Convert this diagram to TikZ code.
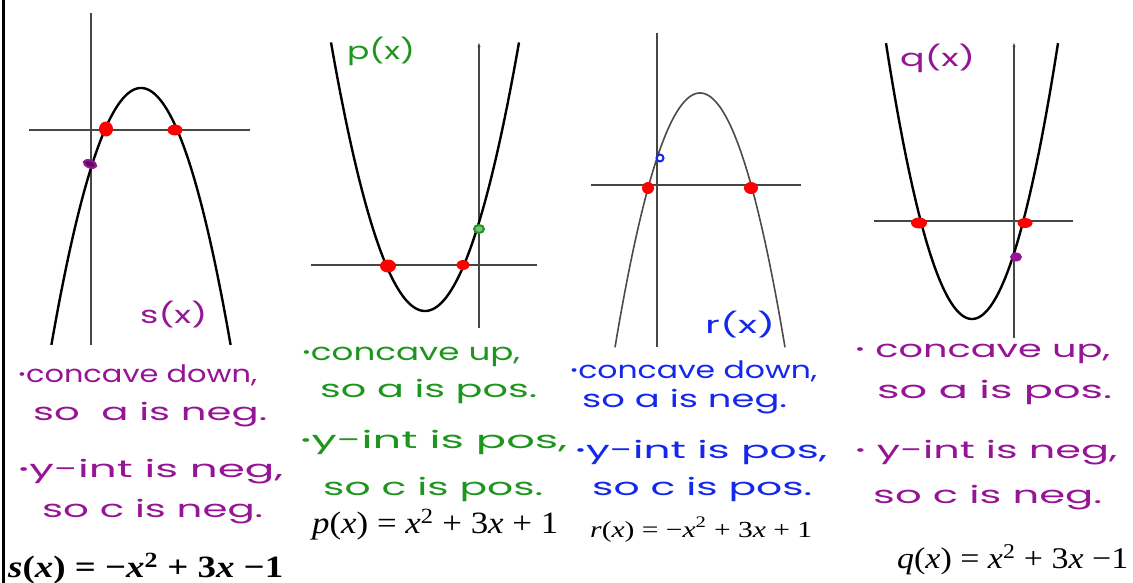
\documentclass[tikz,border=0pt]{standalone}
\usepackage{fontspec}
\usepackage{graphicx}
\usetikzlibrary{arrows.meta}
\newfontfamily\hand{Poppins}
\newfontfamily\eqf{Liberation Serif}
\definecolor{mpurple}{RGB}{150,20,150}
\definecolor{mgreen}{RGB}{30,150,30}
\definecolor{mblue}{RGB}{20,40,235}
\definecolor{axgray}{RGB}{70,70,70}
\newcommand{\hw}[2]{\resizebox{#1pt}{\height}{#2}}
\newcommand{\bul}{\raisebox{3pt}{\fontsize{15}{15}\selectfont •}}
\begin{document}
\begin{tikzpicture}[x=1pt,y=-1pt,
  axisline/.style={draw=axgray,line width=1.3pt},
  curve/.style={draw=black,line width=2.4pt},
  hand/.style={font=\hand\fontsize{24}{28}\selectfont,inner sep=0pt,anchor=base west},
  eqn/.style={font=\eqf\fontsize{31}{34}\selectfont,inner sep=0pt,anchor=base west,text=black}]
\useasboundingbox (0,0) rectangle (1133,583);
\fill[white] (0,0) rectangle (1133,583);
\draw[line width=3pt] (3,0) -- (3,583);

% ---------- s(x) ----------
\draw[axisline] (91,13) -- (91,345);
\draw[axisline] (29,130) -- (250,130);
\draw[curve] plot[domain=51.4:230.6,samples=90,smooth] (\x,{88+0.032*(\x-141)*(\x-141)});
\fill[red] (106,129) ellipse (7pt and 7.5pt);
\fill[red] (175,130) ellipse (7.5pt and 5.5pt);
\draw[mpurple,line width=2pt,fill=mpurple!60!black,rotate around={-20:(90,164)}] (90,164) ellipse (6.5pt and 3.5pt);
\node[hand,text=mpurple] (sl) at (140,323) {\hw{67}{s(x)}};

% ---------- p(x) ----------
\draw[axisline,-{Stealth[length=4pt,width=3pt]}] (479,328) -- (479,43);
\draw[axisline] (311,265) -- (537,265);
\draw[curve] plot[domain=331:519,samples=90,smooth] (\x,{311-0.0304*(\x-425)*(\x-425)});
\fill[red] (388,266) ellipse (8pt and 6.5pt);
\fill[red] (463,265) ellipse (6.5pt and 5pt);
\draw[mgreen,line width=2pt,fill=mgreen!60] (479,229) ellipse (5pt and 4pt);
\node[hand,text=mgreen] (pl) at (347,60) {\hw{68}{p(x)}};

% ---------- r(x) ----------
\draw[axisline] (657,33) -- (657,347);
\draw[axisline] (591,185) -- (801,185);
\draw[draw=black!70,line width=1.6pt] plot[domain=615:785,samples=90,smooth] (\x,{93+0.0352*(\x-700)*(\x-700)});
\fill[red] (648,188) ellipse (6pt and 6pt);
\fill[red] (751,188) ellipse (7pt and 6pt);
\draw[mblue,line width=2pt] (660,158) circle (3.5pt);
\node[hand,text=mblue] (rl) at (705,333) {\hw{70}{r(x)}};

% ---------- q(x) ----------
\draw[axisline,-{Stealth[length=4pt,width=3pt]}] (1014,338) -- (1014,43);
\draw[axisline] (874,221) -- (1073,221);
\draw[curve] plot[domain=886:1058,samples=90,smooth] (\x,{319-0.0373*(\x-972)*(\x-972)});
\fill[red] (919,223) ellipse (8pt and 5.5pt);
\fill[red] (1025,223) ellipse (7.5pt and 5pt);
\fill[mpurple] (1016,257) ellipse (6pt and 4.5pt);
\node[hand,text=mpurple] (ql) at (900,67) {\hw{75}{q(x)}};

% ---------- notes ----------
\node[hand,text=mpurple] (s1) at (18,382) {\hw{239}{\bul concave down,}};
\node[hand,text=mpurple] (s2) at (33,420) {\hw{234}{so\ \ a is neg.}};
\node[hand,text=mpurple] (s3) at (18,477) {\hw{265}{\bul y-int is neg,}};
\node[hand,text=mpurple] (s4) at (42,517) {\hw{221}{so c is neg.}};

\node[hand,text=mgreen] (p1) at (302,360) {\hw{218}{\bul concave up,}};
\node[hand,text=mgreen] (p2) at (320,397) {\hw{217}{so a is pos.}};
\node[hand,text=mgreen] (p3) at (300,448) {\hw{267}{\bul y-int is pos,}};
\node[hand,text=mgreen] (p4) at (323,495) {\hw{220}{so c is pos.}};

\node[hand,text=mblue] (r1) at (570,378) {\hw{247}{\bul concave down,}};
\node[hand,text=mblue] (r2) at (582,407) {\hw{205}{so a is neg.}};
\node[hand,text=mblue] (r3) at (575,458) {\hw{252}{\bul y-int is pos,}};
\node[hand,text=mblue] (r4) at (592,495) {\hw{220}{so c is pos.}};

\node[hand,text=mpurple] (q1) at (855,357) {\hw{255}{\bul\ concave up,}};
\node[hand,text=mpurple] (q2) at (877,398) {\hw{235}{so a is pos.}};
\node[hand,text=mpurple] (q3) at (855,458) {\hw{262}{\bul\ y-int is neg,}};
\node[hand,text=mpurple] (q4) at (873,503) {\hw{229}{so c is neg.}};

% ---------- equations ----------
\node[eqn] (se) at (8,577) {\hw{275}{\bfseries\textit{s}(\textit{x}) = −\textit{x}\textsuperscript{2} + 3\textit{x} −1}};
\node[eqn] (pe) at (312,533) {\hw{246}{\textit{p}(\textit{x}) = \textit{x}\textsuperscript{2} + 3\textit{x} + 1}};
\node[eqn,font=\eqf\fontsize{23}{26}\selectfont] (re) at (590,537) {\hw{222}{\textit{r}(\textit{x}) = −\textit{x}\textsuperscript{2} + 3\textit{x} + 1}};
\node[eqn,font=\eqf\fontsize{30}{33}\selectfont] (qe) at (897,568) {\hw{231}{\textit{q}(\textit{x}) = \textit{x}\textsuperscript{2} + 3\textit{x} −1}};
\end{tikzpicture}
\end{document}
